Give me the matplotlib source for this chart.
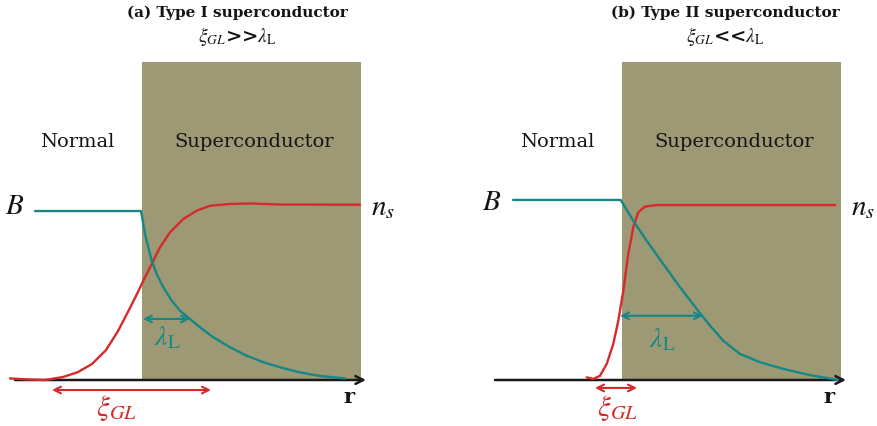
import matplotlib
matplotlib.use("Agg")
import matplotlib.pyplot as plt
from matplotlib.patches import Rectangle

plt.rcParams["mathtext.fontset"] = "stix"
plt.rcParams["font.family"] = ["DejaVu Serif"]

# Position r measured from the normal/superconductor interface; fields normalised to the n_s plateau.
# ---- (a) Type I ----
a_ns_r = [-1.31, -1.13, -0.96, -0.78, -0.63, -0.49, -0.35, -0.23, -0.11, -0.04, 0.023, 0.107,
          0.19, 0.29, 0.423, 0.557, 0.69, 0.89, 1.09, 1.39, 2.19]
a_ns_v = [0.009, 0.003, 0.000, 0.017, 0.045, 0.091, 0.170, 0.278, 0.409, 0.489, 0.564, 0.659,
          0.754, 0.839, 0.915, 0.962, 0.990, 1.000, 1.003, 0.997, 0.996]
a_B_r = [-1.06, 0.00, 0.017, 0.04, 0.073, 0.107, 0.157, 0.223, 0.307, 0.39, 0.49, 0.59, 0.723,
         0.89, 1.057, 1.223, 1.39, 1.59, 1.79, 2.04]
a_B_v = [0.960, 0.960, 0.905, 0.830, 0.754, 0.678, 0.602, 0.527, 0.451, 0.394, 0.347, 0.299,
         0.243, 0.186, 0.138, 0.101, 0.072, 0.043, 0.023, 0.009]
a_lambda = (0.02, 0.49)
a_xi = (-0.89, 0.70)

# ---- (b) Type II ----
b_ns_r = [-0.343, -0.277, -0.21, -0.143, -0.077, -0.027, 0.023, 0.073, 0.123, 0.173, 0.24,
          0.357, 2.14]
b_ns_v = [0.015, 0.006, 0.024, 0.091, 0.205, 0.337, 0.507, 0.716, 0.868, 0.953, 0.985,
          0.994, 0.994]
b_B_r = [-1.08, -0.003, 0.123, 0.257, 0.423, 0.59, 0.80, 0.89, 1.023, 1.19, 1.39, 1.623,
         1.89, 2.17]
b_B_v = [1.023, 1.023, 0.905, 0.791, 0.659, 0.527, 0.372, 0.309, 0.223, 0.148, 0.101, 0.063,
         0.028, 0.000]
b_lambda = (-0.01, 0.82)
b_xi = (-0.26, 0.16)

titles = ["(a) Type I superconductor", "(b) Type II superconductor"]
relations = [">>", "<<"]

TEAL = "#168787"
RED = "#d62a2a"
KHAKI = "#9d9974"
INK = "#141414"

fig = plt.figure(figsize=(8.78, 4.27), dpi=100)

panels = [
    dict(left=0.0, iface=141, ns=(a_ns_r, a_ns_v), B=(a_B_r, a_B_v), lam=a_lambda, xi=a_xi,
         lam_y=0.347, xi_y=-0.057, B_lab=(-1.26, 0.994), lam_lab=(0.26, 0.244), xi_lab=(-0.24, -0.153),
         title_x=0.96),
    dict(left=439 / 878, iface=621, ns=(b_ns_r, b_ns_v), B=(b_B_r, b_B_v), lam=b_lambda, xi=b_xi,
         lam_y=0.365, xi_y=-0.045, B_lab=(-1.29, 1.017), lam_lab=(0.41, 0.233), xi_lab=(-0.03, -0.153),
         title_x=1.04),
]

for i, p in enumerate(panels):
    ax = fig.add_axes([p["left"], 0.0, 439 / 878, 1.0])
    x0 = (p["left"] * 878 - p["iface"]) / 100
    ax.set_xlim(x0, x0 + 4.39)
    ax.set_ylim((381 - 427) / 176, 381 / 176)
    ax.axis("off")

    # superconducting region
    ax.add_patch(Rectangle((0.01, 0.0), 2.19, 1.805, facecolor=KHAKI, edgecolor="none", zorder=0))

    # r axis
    ax.annotate("", xy=(2.25, 0.0), xytext=(-1.26, 0.0),
                arrowprops=dict(arrowstyle="->", color="#1a1a1a", lw=1.8, mutation_scale=14,
                                shrinkA=0, shrinkB=0), zorder=2)

    ax.plot(*p["ns"], color=RED, lw=1.7, solid_joinstyle="round", solid_capstyle="round", zorder=3)
    ax.plot(*p["B"], color=TEAL, lw=1.7, solid_joinstyle="round", solid_capstyle="round", zorder=3)

    # penetration depth and coherence length markers
    ax.annotate("", xy=(p["lam"][1], p["lam_y"]), xytext=(p["lam"][0], p["lam_y"]),
                arrowprops=dict(arrowstyle="<->", color=TEAL, lw=1.5, mutation_scale=12,
                                shrinkA=0, shrinkB=0), zorder=4)
    ax.annotate("", xy=(p["xi"][1], p["xi_y"]), xytext=(p["xi"][0], p["xi_y"]),
                arrowprops=dict(arrowstyle="<->", color=RED, lw=1.5, mutation_scale=12,
                                shrinkA=0, shrinkB=0), zorder=4)

    ax.text(*p["lam_lab"], r"$\lambda_{\mathrm{L}}$", color=TEAL, fontsize=20, ha="center", va="center")
    ax.text(*p["xi_lab"], r"$\xi_{GL}$", color=RED, fontsize=21, ha="center", va="center")
    ax.text(*p["B_lab"], r"$B$", color=INK, fontsize=21, ha="center", va="center")
    ax.text(2.42, 0.99, r"$n_s$", color=INK, fontsize=21, ha="center", va="center")
    ax.text(2.08, -0.09, "r", color=INK, fontsize=15, ha="center", va="center", fontweight="bold")

    ax.text(-0.64, 1.358, "Normal", fontsize=14, ha="center", va="center", color=INK)
    ax.text(1.13, 1.358, "Superconductor", fontsize=14, ha="center", va="center", color=INK)

    ax.text(p["title_x"], 2.09, titles[i], fontsize=11, fontweight="bold", ha="center", va="center",
            color=INK)
    ax.text(p["title_x"], 1.955, r"$\xi_{GL}$" + relations[i] + r"$\lambda_{\mathrm{L}}$",
            fontsize=14, fontweight="bold", ha="center", va="center", color=INK)

fig.savefig("out.png", dpi=100)
